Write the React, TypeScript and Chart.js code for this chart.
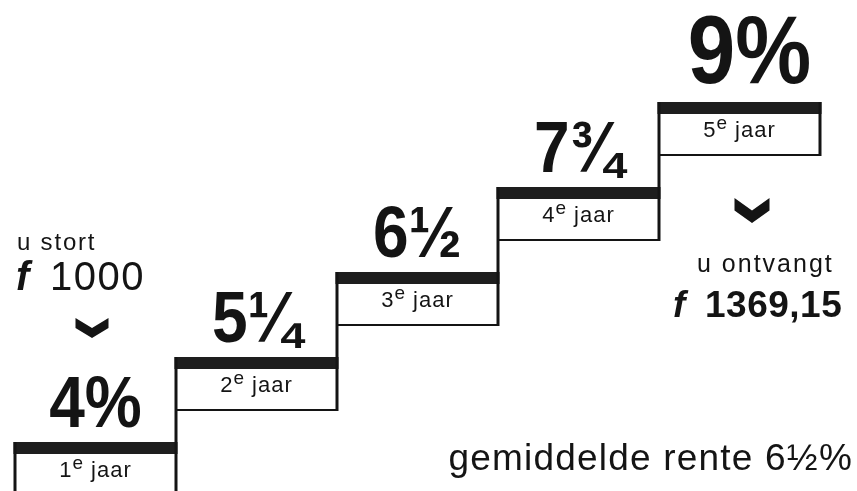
import { useEffect, useRef } from "react";
import { Chart, registerables } from "chart.js";

Chart.register(...registerables);

// ---- data ----
const years = [1, 2, 3, 4, 5];
const rates = [4, 5.25, 6.5, 7.75, 9];
const rateLabels = ["4%", "5\u00BC", "6\u00BD", "7\u00BE", "9%"];
const yearSuffix = "e";
const yearWord = "jaar";
const depositTexts = ["u stort", "f", "1000"];
const payoutTexts = ["u ontvangt", "f", "1369,15"];
const averageText = "gemiddelde rente 6\u00BD%";

const FONT = '"Liberation Sans", Arial, Helvetica, sans-serif';
const INK = "#141414";
const TREAD = "#1e1e1e";

function chevron(ctx: CanvasRenderingContext2D, cx: number, top: number, w: number, h: number) {
  const l = cx - w / 2;
  ctx.beginPath();
  ctx.moveTo(l, top);
  ctx.lineTo(cx, top + h * 0.5);
  ctx.lineTo(l + w, top);
  ctx.lineTo(l + w, top + h * 0.5);
  ctx.lineTo(cx, top + h);
  ctx.lineTo(l, top + h * 0.5);
  ctx.closePath();
  ctx.fill();
}

const stairsPlugin = {
  id: "stairs",
  afterDatasetsDraw(chart: any) {
    const { ctx, scales, height } = chart;
    const xs = scales.x;
    const ys = scales.y;
    const n = rates.length;
    const L = (i: number) => xs.getPixelForValue(i);
    const T = (i: number) => ys.getPixelForValue(rates[i]);
    const treadH = 12;
    const boxDepth = 41;
    const vW = 3;
    const hW = 2;
    ctx.save();
    (ctx as any).letterSpacing = "0px";

    // structure
    for (let i = 0; i < n; i++) {
      const l = L(i);
      const r = L(i + 1);
      const t = T(i);
      ctx.fillStyle = TREAD;
      ctx.fillRect(l - vW / 2, t, r - l + vW, treadH);
      const bottom = t + treadH + boxDepth;
      ctx.fillStyle = INK;
      if (bottom < height) ctx.fillRect(l, bottom - hW / 2, r - l, hW);
      const lower = i === 0 ? height : T(i - 1) + treadH + boxDepth;
      ctx.fillRect(l - vW / 2, t, vW, lower - t + hW / 2);
    }
    const lastT = T(n - 1);
    ctx.fillRect(L(n) - vW / 2, lastT, vW, treadH + boxDepth + hW / 2);

    // year labels inside boxes
    for (let i = 0; i < n; i++) {
      const cx = (L(i) + L(i + 1)) / 2;
      const base = T(i) + treadH + 23;
      (ctx as any).letterSpacing = "1px";
      ctx.textAlign = "left";
      ctx.textBaseline = "alphabetic";
      ctx.font = `22px ${FONT}`;
      const numStr = String(years[i]);
      const wNum = ctx.measureText(numStr).width;
      const wWord = ctx.measureText(" " + yearWord).width;
      ctx.font = `19px ${FONT}`;
      const wSup = ctx.measureText(yearSuffix).width;
      const total = wNum + wSup + wWord;
      let x = cx - total / 2;
      ctx.fillStyle = INK;
      ctx.font = `22px ${FONT}`;
      ctx.fillText(numStr, x, base);
      x += wNum;
      ctx.font = `19px ${FONT}`;
      ctx.fillText(yearSuffix, x, base - 8);
      x += wSup;
      ctx.font = `22px ${FONT}`;
      ctx.fillText(" " + yearWord, x, base);
    }

    // big rate labels
    (ctx as any).letterSpacing = "0px";
    for (let i = 0; i < n; i++) {
      const cx = (L(i) + L(i + 1)) / 2;
      const last = i === n - 1;
      const size = last ? 96 : 72;
      const base = T(i) - (last ? 19 : 15);
      ctx.save();
      ctx.translate(cx + (last ? 10 : 0), base);
      ctx.scale(0.89, 1);
      ctx.font = `bold ${size}px ${FONT}`;
      ctx.textAlign = "center";
      ctx.fillStyle = INK;
      ctx.fillText(rateLabels[i], 0, 0);
      ctx.restore();
    }

    // deposit block (left)
    const t0 = T(0);
    const l0 = L(0);
    ctx.fillStyle = INK;
    ctx.textAlign = "left";
    (ctx as any).letterSpacing = "1.8px";
    ctx.font = `24px ${FONT}`;
    ctx.fillText(depositTexts[0], l0 + 2, t0 - 192);
    (ctx as any).letterSpacing = "0px";
    ctx.font = `italic bold 40px ${FONT}`;
    ctx.fillText(depositTexts[1], l0 + 1, t0 - 152);
    (ctx as any).letterSpacing = "1.5px";
    ctx.font = `40px ${FONT}`;
    ctx.fillText(depositTexts[2], l0 + 35, t0 - 152);
    chevron(ctx, l0 + 77, t0 - 124, 33, 20);

    // payout block (right)
    const t4 = T(n - 1);
    const l4 = L(n - 1);
    chevron(ctx, l4 + 93, t4 + 96, 35, 25);
    (ctx as any).letterSpacing = "2px";
    ctx.font = `25px ${FONT}`;
    ctx.fillText(payoutTexts[0], l4 + 38, t4 + 170);
    (ctx as any).letterSpacing = "0px";
    ctx.font = `italic bold 37px ${FONT}`;
    ctx.fillText(payoutTexts[1], l4 + 14, t4 + 215);
    (ctx as any).letterSpacing = "0.5px";
    ctx.font = `bold 37px ${FONT}`;
    ctx.fillText(payoutTexts[2], l4 + 46, t4 + 215);

    // average
    (ctx as any).letterSpacing = "1.2px";
    ctx.font = `37px ${FONT}`;
    const wAvg = ctx.measureText(averageText).width;
    ctx.fillText(averageText, 853 - wAvg, t0 + 28);

    ctx.restore();
  },
};

export default function App() {
  const ref = useRef<HTMLCanvasElement | null>(null);
  useEffect(() => {
    if (!ref.current) return;
    const chart = new Chart(ref.current, {
      type: "scatter",
      data: {
        datasets: [
          {
            data: rates.map((r, i) => ({ x: i, y: r })),
            pointRadius: 0,
            showLine: false,
            backgroundColor: "rgba(0,0,0,0)",
            borderColor: "rgba(0,0,0,0)",
          },
        ],
      },
      options: {
        animation: false,
        responsive: false,
        devicePixelRatio: 1,
        layout: { padding: 0 },
        plugins: { legend: { display: false }, tooltip: { enabled: false } },
        scales: {
          x: { type: "linear", display: false, min: -15 / 161, max: (857 - 15) / 161 },
          y: { type: "linear", display: false, min: 10.5 - 491 / 68, max: 10.5 },
        },
      },
      plugins: [stairsPlugin],
    });
    return () => chart.destroy();
  }, []);
  return (
    <div style={{ position: "absolute", left: 0, top: 0, width: 857, height: 491, background: "#fff" }}>
      <canvas ref={ref} width={857} height={491} style={{ display: "block" }} />
    </div>
  );
}
